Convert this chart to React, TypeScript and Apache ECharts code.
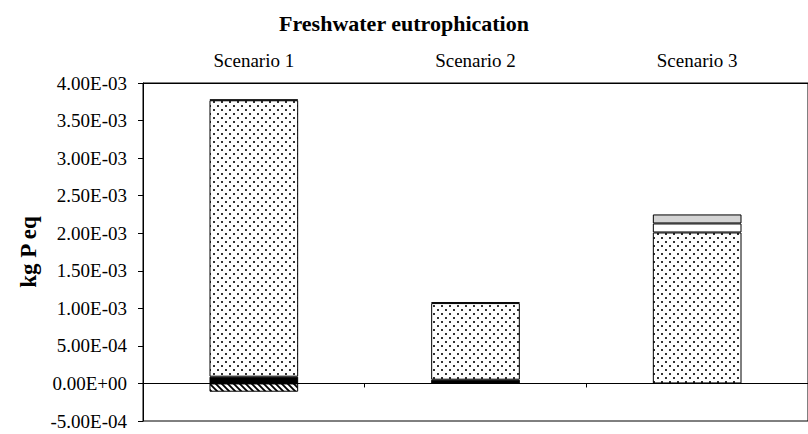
import React, { useEffect, useRef } from "react";
import * as echarts from "echarts";

const categories = ["Scenario 1", "Scenario 2", "Scenario 3"];
const seriesBlack = [9e-5, 5e-5, null];
const seriesDotted = [3.68e-3, 1.02e-3, 2.01e-3];
const seriesWhite = [1e-5, 1e-5, 1.2e-4];
const seriesGray = [null, null, 1.2e-4];
const seriesHatched = [-1.1e-4, null, null];
const yTicks = { min: -5e-4, max: 4e-3, interval: 5e-4 };

const FONT = "'Liberation Serif', 'Times New Roman', serif";

function fmt(v: number): string {
  if (Math.abs(v) < 1e-12) return "0.00E+00";
  const [m, e] = v.toExponential(2).split("e");
  const en = parseInt(e, 10);
  return m + "E" + (en < 0 ? "-" : "+") + String(Math.abs(en)).padStart(2, "0");
}

function makeDots(): HTMLCanvasElement {
  const c = document.createElement("canvas");
  c.width = 8;
  c.height = 8;
  const ctx = c.getContext("2d")!;
  ctx.fillStyle = "#fff";
  ctx.fillRect(0, 0, 8, 8);
  ctx.fillStyle = "#333";
  ctx.fillRect(1, 1, 2, 2);
  ctx.fillRect(5, 5, 2, 2);
  return c;
}

function makeHatch(): HTMLCanvasElement {
  const c = document.createElement("canvas");
  c.width = 6;
  c.height = 6;
  const ctx = c.getContext("2d")!;
  ctx.fillStyle = "#fff";
  ctx.fillRect(0, 0, 6, 6);
  ctx.strokeStyle = "#000";
  ctx.lineWidth = 1.8;
  ctx.beginPath();
  ctx.moveTo(-3, -3);
  ctx.lineTo(9, 9);
  ctx.moveTo(-3, 3);
  ctx.lineTo(3, 9);
  ctx.moveTo(3, -3);
  ctx.lineTo(9, 3);
  ctx.stroke();
  return c;
}

export default function App() {
  const ref = useRef<HTMLDivElement>(null);
  useEffect(() => {
    document.body.style.margin = "0";
    const chart = echarts.init(ref.current!, undefined, { renderer: "svg" });
    const dots = makeDots();
    const hatch = makeHatch();
    const border = { borderColor: "#000", borderWidth: 1 };
    const mk = (name: string, data: (number | null)[], color: any) => ({
      name,
      type: "bar",
      stack: "total",
      barWidth: "40%",
      data,
      itemStyle: { color, ...border },
      emphasis: { disabled: true },
    });
    chart.setOption({
      animation: false,
      textStyle: { fontFamily: FONT },
      title: {
        text: "Freshwater eutrophication",
        left: "center",
        top: 7,
        textStyle: { fontFamily: FONT, fontWeight: "bold", fontSize: 22, color: "#000" },
      },
      grid: {
        left: 143,
        top: 83,
        width: 675,
        height: 338,
        show: true,
        borderColor: "#000",
        borderWidth: 1,
        backgroundColor: "transparent",
      },
      xAxis: [
        {
          type: "category",
          data: categories,
          position: "bottom",
          axisLine: { onZero: true, lineStyle: { color: "#000", width: 1 } },
          axisTick: { show: true, interval: 0, length: 4, lineStyle: { color: "#000" } },
          axisLabel: { show: false },
        },
        {
          type: "category",
          data: categories,
          position: "top",
          axisLine: { onZero: false, show: true, lineStyle: { color: "#000", width: 1 } },
          axisTick: { show: false },
          axisLabel: { show: true, margin: 13, color: "#000", fontSize: 19, fontFamily: FONT },
        },
      ],
      yAxis: {
        type: "value",
        min: yTicks.min,
        max: yTicks.max,
        interval: yTicks.interval,
        name: "kg P eq",
        nameLocation: "middle",
        nameGap: 103,
        nameTextStyle: { fontFamily: FONT, fontWeight: "bold", fontSize: 23, color: "#000" },
        axisLine: { show: true, lineStyle: { color: "#000", width: 1 } },
        axisTick: { show: true, inside: false, length: 5, lineStyle: { color: "#000" } },
        splitLine: { show: false },
        axisLabel: { color: "#000", fontSize: 19, fontFamily: FONT, margin: 16, formatter: (v: number) => fmt(v) },
      },
      series: [
        mk("Component A", seriesBlack, "#000"),
        mk("Component B", seriesDotted, { image: dots, repeat: "repeat", imageWidth: 8, imageHeight: 8 }),
        mk("Component C", seriesWhite, "#fff"),
        mk("Component D", seriesGray, "#d4d4d4"),
        mk("Component E", seriesHatched, { image: hatch, repeat: "repeat", imageWidth: 6, imageHeight: 6 }),
      ],
    });
    return () => chart.dispose();
  }, []);
  return (
    <div
      ref={ref}
      style={{ position: "absolute", left: 0, top: 0, width: 808, height: 434, background: "#fff" }}
    />
  );
}
